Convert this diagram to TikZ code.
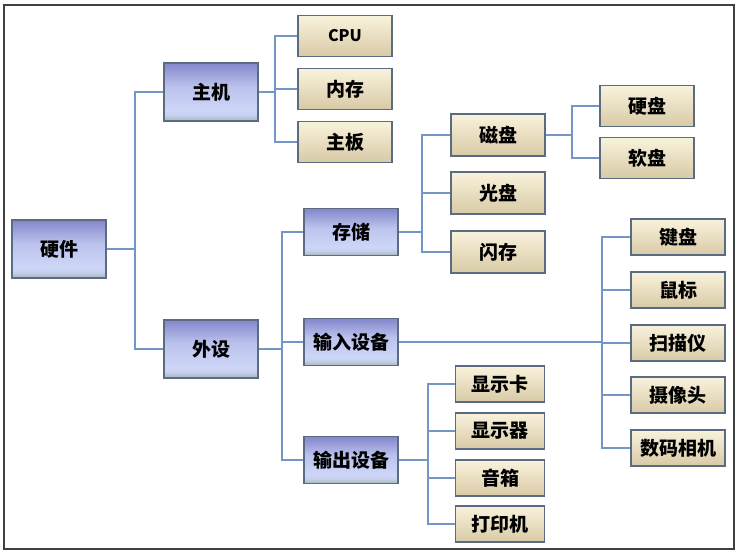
\documentclass[tikz,border=0pt]{standalone}
\usepackage{fontspec}
\newfontfamily\cjk{Noto Sans CJK SC}
\usetikzlibrary{calc}
\definecolor{lnc}{HTML}{7396C6}
\definecolor{bdc}{HTML}{5B6B82}
\definecolor{btop}{HTML}{8486CB}
\definecolor{bmid}{HTML}{CED6F8}
\definecolor{bbot}{HTML}{A4B6BA}
\definecolor{ytop}{HTML}{F9F2DC}
\definecolor{ybot}{HTML}{D8CAA6}
\pgfdeclareverticalshading{blueshade}{100bp}{color(0bp)=(bbot); color(25bp)=(bbot); color(30bp)=(bmid!80!bbot); color(34bp)=(bmid); color(55bp)=(bmid!75!btop); color(75bp)=(btop); color(100bp)=(btop)}
\begin{document}
\begin{tikzpicture}[x=1pt,y=-1pt,
  blue/.style={draw=bdc,line width=1.2pt,shading=blueshade,
    minimum width=94pt,inner sep=0pt,font=\cjk\bfseries\fontsize{19}{19}\selectfont,text=black},
  beige/.style={draw=bdc,line width=1.2pt,top color=ytop,bottom color=ybot,
    minimum width=94pt,inner sep=0pt,font=\cjk\bfseries\fontsize{19}{19}\selectfont,text=black},
  conn/.style={draw=lnc,line width=1.3pt}]
\useasboundingbox (0,0) rectangle (743,554);
\draw[line width=1.8pt,draw=black!75] (4,5) rectangle (734,549);
% level 0/1
\node[blue,minimum height=58pt] (hw) at (59,249) {硬件};
\node[blue,minimum height=58pt] (host) at (211,92) {主机};
\node[blue,minimum height=58pt] (per) at (211,349) {外设};
% host children
\node[beige,minimum height=41pt] (cpu) at (345,36) {\fontsize{16}{16}\selectfont CPU};
\node[beige,minimum height=41pt] (mem) at (345,89) {内存};
\node[beige,minimum height=41pt] (mb) at (345,142) {主板};
% peripheral children
\node[blue,minimum height=47pt] (sto) at (351,232) {存储};
\node[blue,minimum height=47pt] (inp) at (351,342) {输入设备};
\node[blue,minimum height=47pt] (outp) at (351,460) {输出设备};
% storage
\node[beige,minimum height=42pt] (disk) at (498,135) {磁盘};
\node[beige,minimum height=42pt] (cd) at (498,193) {光盘};
\node[beige,minimum height=42pt] (flash) at (498,252) {闪存};
\node[beige,minimum height=41pt] (hd) at (647,106) {硬盘};
\node[beige,minimum height=41pt] (fd) at (647,158) {软盘};
% output
\node[beige,minimum height=36pt,minimum width=89pt] (gc) at (500,384) {显示卡};
\node[beige,minimum height=36pt,minimum width=89pt] (mon) at (500,431) {显示器};
\node[beige,minimum height=36pt,minimum width=89pt] (spk) at (500,478) {音箱};
\node[beige,minimum height=36pt,minimum width=89pt] (prn) at (500,524) {打印机};
% input
\node[beige,minimum height=36pt] (kb) at (678,237) {键盘};
\node[beige,minimum height=36pt] (mouse) at (678,290) {鼠标};
\node[beige,minimum height=36pt] (scan) at (678,343) {扫描仪};
\node[beige,minimum height=36pt] (cam) at (678,395) {摄像头};
\node[beige,minimum height=36pt] (dc) at (678,448) {数码相机};
% bus coordinates
\coordinate (v0) at (135,0);
\coordinate (v1) at (275,0);
\coordinate (v2) at (282,0);
\coordinate (v3) at (422,0);
\coordinate (v4) at (572,0);
\coordinate (v5) at (428,0);
\coordinate (v6) at (602,0);
\foreach \p/\v/\cs in {hw/v0/{host,per}, host/v1/{cpu,mem,mb}, per/v2/{sto,inp,outp},
  sto/v3/{disk,cd,flash}, disk/v4/{hd,fd}, outp/v5/{gc,mon,spk,prn}, inp/v6/{kb,mouse,scan,cam,dc}}{
  \draw[conn] (\p.east) -- (\p.east -| \v);
  \foreach \c in \cs {\draw[conn] (\p.east -| \v) |- (\c.west);}
}
\end{tikzpicture}
\end{document}
